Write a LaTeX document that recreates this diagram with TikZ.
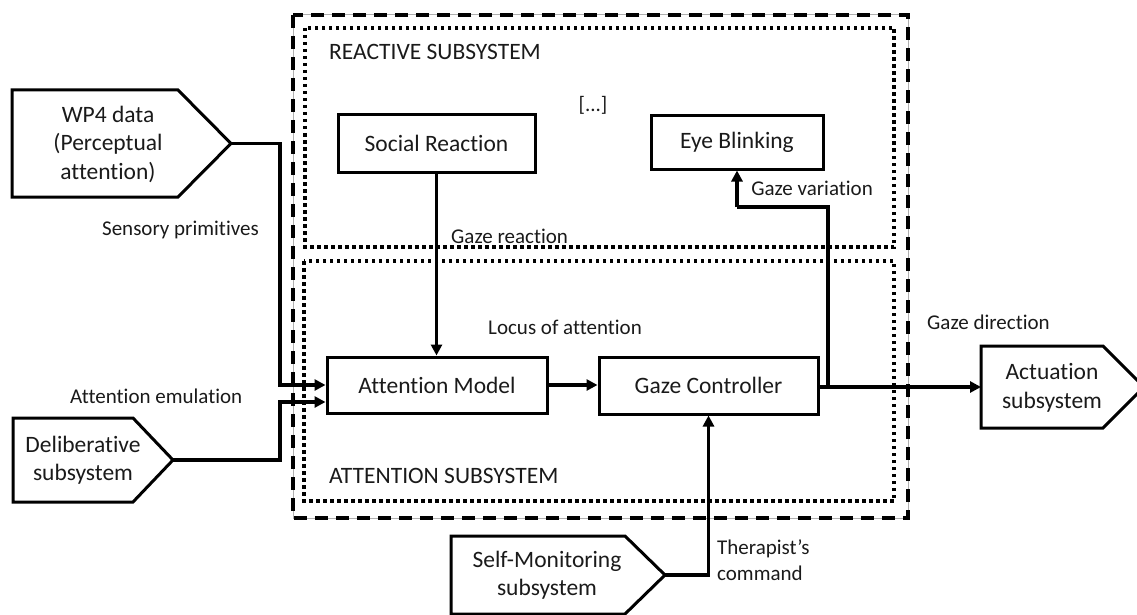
\documentclass[tikz,border=0pt]{standalone}
\usepackage{fontspec}
\setmainfont{Carlito}[Ligatures=NoCommon]
\usetikzlibrary{arrows.meta}
\definecolor{ink}{HTML}{1A1A1A}
\definecolor{rule}{HTML}{B0B0B0}
\begin{document}
\begin{tikzpicture}[x=1pt,y=-1pt,
  every node/.style={text=ink, inner sep=0pt},
  block/.style={draw=black, line width=3pt, font=\fontsize{23.5}{28.5}\selectfont, align=center},
  boxtext/.style={font=\fontsize{23.5}{28.5}\selectfont, align=center},
  tag/.style={font=\fontsize{21}{26}\selectfont},
  heading/.style={font=\fontsize{23.5}{28}\selectfont, anchor=west},
  conn/.style={line width=3.5pt},
  arr/.style={conn, -{Triangle[length=11pt,width=11pt]}},
  ioshape/.style={line width=3pt, line join=miter},
  outerframe/.style={line width=4pt, dash pattern=on 13pt off 8pt},
  innerframe/.style={line width=3.5pt, dash pattern=on 3.5pt off 3.5pt},
]
\useasboundingbox (0,0) rectangle (1137,615);

% subsystem frames
\draw[rule, line width=1pt] (293,15) rectangle (908,518);
\draw[outerframe] (293,15) rectangle (908,518);
\draw[innerframe] (305,28) rectangle (894,247);
\draw[innerframe] (304,261) rectangle (894,501);
\node[heading] (reacttitle) at (329,52) {REACTIVE SUBSYSTEM};
\node[heading] (atttitle) at (329,476) {ATTENTION SUBSYSTEM};
\node[tag] (etc) at (593,105) {[...]};

% internal blocks
\node[block, minimum width=197pt, minimum height=57pt] (sr) at (436.5,143.5) {Social Reaction};
\node[block, minimum width=172pt, minimum height=53pt] (eb) at (737,142.5) {Eye Blinking};
\node[block, minimum width=220pt, minimum height=56pt] (am) at (437,385) {Attention Model};
\node[block, minimum width=219pt, minimum height=57pt] (gc) at (708.5,385.5) {Gaze Controller};

% external subsystems
\draw[ioshape] (12,90) -- (178,90) -- (231,143.5) -- (178,197) -- (12,197) -- cycle;
\node[boxtext] (wp4) at (108,144) {WP4 data\\(Perceptual\\attention)};
\coordinate (wp4tip) at (231,143.5);

\draw[ioshape] (13,418) -- (133,418) -- (173,460) -- (133,502) -- (13,502) -- cycle;
\node[boxtext] (delib) at (83,460) {Deliberative\\subsystem};
\coordinate (delibtip) at (173,460);

\draw[ioshape] (451,536) -- (625,536) -- (665,575) -- (625,614) -- (451,614) -- cycle;
\node[boxtext] (selfmon) at (547,575) {Self-Monitoring\\subsystem};
\coordinate (selfmontip) at (665,575);

\draw[ioshape] (981,346) -- (1103,346) -- (1144,387) -- (1103,428) -- (981,428) -- cycle;
\node[boxtext] (act) at (1052,388) {Actuation\\subsystem};
\coordinate (actin) at (981,387);

% connectors
\draw[arr] (wp4tip) -- (280,143.5) |- (am.west);
\draw[arr] (delibtip) -- (280,460) |- ([yshift=-17pt]am.west);
\draw[arr] (sr.south) -- (sr.south |- am.north);
\draw[arr] (am.east) -- (am.east -| gc.west);
\draw[arr] (gc.east |- actin) -- (actin);
\coordinate (branch) at (828,387);
\coordinate (bend) at (eb.south |- 0,207);
\draw[conn] (branch) |- (bend);
\draw[arr] (bend) -- (eb.south);
\draw[arr] (selfmontip) -| (gc.south);

% connector labels
\node[tag, anchor=east] (lsens) at (259,230) {Sensory primitives};
\node[tag, anchor=west] (lemu) at (70,396) {Attention emulation};
\node[tag, anchor=west] (lreact) at (451,236) {Gaze reaction};
\node[tag, anchor=west] (llocus) at (488,327) {Locus of attention};
\node[tag, anchor=east] (lvar) at (873,188) {Gaze variation};
\node[tag, anchor=west] (ldir) at (927,322) {Gaze direction};
\node[tag, anchor=west, align=left] (lcmd) at (717,560) {Therapist’s\\command};
\end{tikzpicture}
\end{document}
